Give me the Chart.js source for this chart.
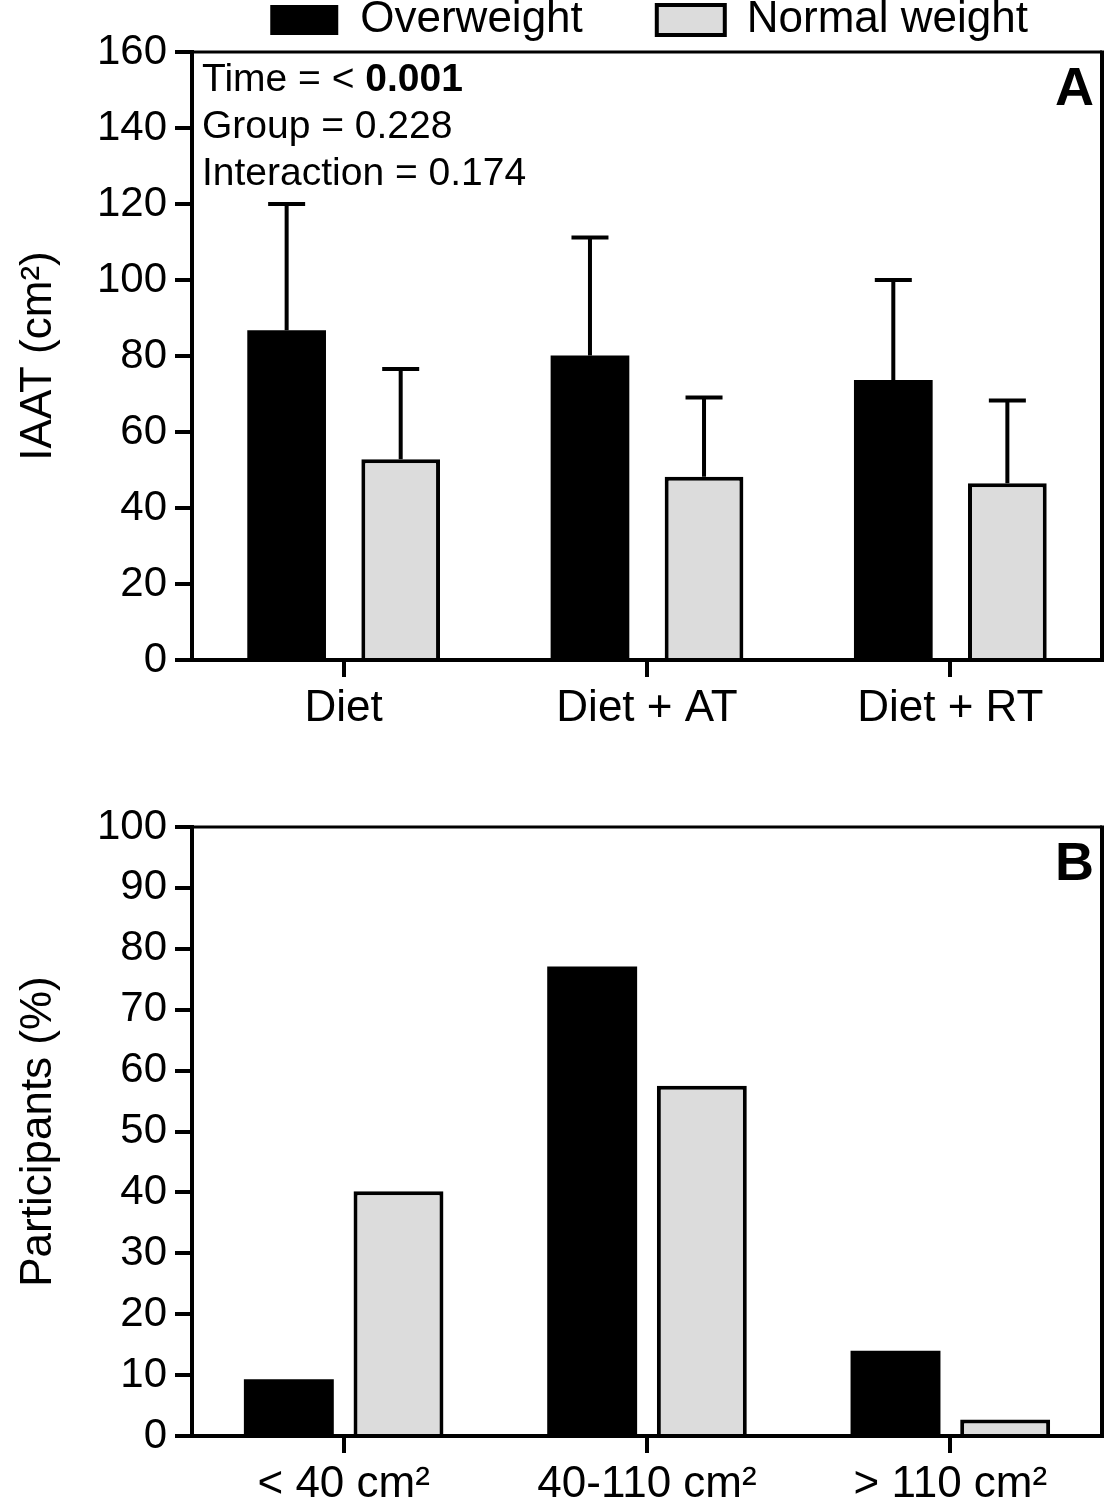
<!DOCTYPE html>
<html>
<head>
<meta charset="utf-8">
<script src="https://cdn.jsdelivr.net/npm/chart.js@4.4.0/dist/chart.umd.min.js"></script>
<style>
  body { margin: 0; background: #fff; }
  .box { position: relative; width: 1106px; }
</style>
</head>
<body>
<div class="box" style="height:760px"><canvas id="chartA"></canvas></div>
<div class="box" style="height:740px"><canvas id="chartB"></canvas></div>
<script>
// panel A: IAAT per intervention (mean + SD)
const treatments = ['Diet', 'Diet + AT', 'Diet + RT'];
const overweightIaat = [86.8, 80.1, 73.7];
const overweightSd = [33.2, 31.1, 26.3];
const normalIaat = [52.8, 48.2, 46.5];
const normalSd = [23.8, 20.9, 21.8];
const iaatTicks = [0, 20, 40, 60, 80, 100, 120, 140, 160];

// panel B: participants per IAAT class
const iaatClasses = ['< 40 cm²', '40-110 cm²', '> 110 cm²'];
const overweightPct = [9.3, 77.1, 14.0];
const normalPct = [40.2, 57.5, 2.7];
const pctTicks = [0, 10, 20, 30, 40, 50, 60, 70, 80, 90, 100];

const statsText = [
    ['Time = < ', '0.001'],
    ['Group = 0.228', ''],
    ['Interaction = 0.174', '']
];

Chart.defaults.font.family = 'Arial, "Liberation Sans", Helvetica, sans-serif';
Chart.defaults.color = '#000';
Chart.defaults.animation = false;

const OW_COLOR = '#000000';
const NW_COLOR = '#dcdcdc';

// top + right frame, panel letter and optional extra text
const framePlugin = {
    id: 'frame',
    afterDraw(chart, args, opts) {
        const ctx = chart.ctx;
        const a = chart.chartArea;
        ctx.save();
        ctx.strokeStyle = '#000';
        ctx.lineWidth = 3;
        ctx.beginPath();
        ctx.moveTo(a.left, a.top);
        ctx.lineTo(a.right, a.top);
        ctx.stroke();
        ctx.lineWidth = 4;
        ctx.beginPath();
        ctx.moveTo(a.right, a.top - 1.5);
        ctx.lineTo(a.right, a.bottom);
        ctx.stroke();

        ctx.fillStyle = '#000';
        ctx.font = 'bold 54px Arial, "Liberation Sans", sans-serif';
        ctx.textAlign = 'right';
        ctx.textBaseline = 'middle';
        ctx.fillText(opts.letter, a.right - 8, a.top + 38);

        if (opts.stats) {
            ctx.textAlign = 'left';
            opts.stats.forEach((line, i) => {
                const y = a.top + 28 + i * 47;
                ctx.font = '39px Arial, "Liberation Sans", sans-serif';
                ctx.fillText(line[0], a.left + 10, y);
                if (line[1]) {
                    const w = ctx.measureText(line[0]).width;
                    ctx.font = 'bold 39px Arial, "Liberation Sans", sans-serif';
                    ctx.fillText(line[1], a.left + 10 + w, y);
                }
            });
        }
        ctx.restore();
    }
};

// upward SD whiskers
const errorBarPlugin = {
    id: 'errorBars',
    beforeDatasetsDraw(chart) {
        const ctx = chart.ctx;
        const yScale = chart.scales.y;
        ctx.save();
        ctx.strokeStyle = '#000';
        ctx.lineWidth = 4;
        chart.data.datasets.forEach((ds, di) => {
            if (!ds.sd) return;
            const meta = chart.getDatasetMeta(di);
            meta.data.forEach((bar, i) => {
                const top = yScale.getPixelForValue(ds.data[i] + ds.sd[i]);
                const x = bar.x;
                ctx.beginPath();
                ctx.moveTo(x, bar.y);
                ctx.lineTo(x, top);
                ctx.moveTo(x - 18.5, top);
                ctx.lineTo(x + 18.5, top);
                ctx.stroke();
            });
        });
        ctx.restore();
    }
};

function axes(max, step, titleText) {
    return {
        x: {
            grid: { display: true, drawOnChartArea: false, offset: false, color: '#000', lineWidth: 4, tickWidth: 4, tickLength: 17 },
            border: { color: '#000', width: 4 },
            ticks: { font: { size: 44 }, padding: 5, color: '#000' }
        },
        y: {
            min: 0,
            max: max,
            grid: { display: true, drawOnChartArea: false, color: '#000', lineWidth: 4, tickWidth: 4, tickLength: 17 },
            border: { color: '#000', width: 4 },
            ticks: { stepSize: step, font: { size: 42 }, padding: 8, color: '#000' },
            title: { display: true, text: titleText, font: { size: 44 }, padding: { top: 12, bottom: 0 }, color: '#000' },
            afterFit(scale) { scale.width = 192; }
        }
    };
}

// Panel A
const scalesA = axes(iaatTicks[iaatTicks.length - 1], iaatTicks[1] - iaatTicks[0], 'IAAT (cm²)');
scalesA.x.afterFit = function (scale) { scale.height = 100; };
new Chart(document.getElementById('chartA'), {
    type: 'bar',
    data: {
        labels: treatments,
        datasets: [
            {
                label: 'Overweight',
                data: overweightIaat,
                sd: overweightSd,
                backgroundColor: OW_COLOR,
                borderColor: '#000',
                borderWidth: 0,
                categoryPercentage: 0.752,
                barPercentage: 0.69
            },
            {
                label: 'Normal weight',
                data: normalIaat,
                sd: normalSd,
                backgroundColor: NW_COLOR,
                borderColor: '#000',
                borderWidth: 4,
                categoryPercentage: 0.752,
                barPercentage: 0.69
            }
        ]
    },
    options: {
        responsive: true,
        maintainAspectRatio: false,
        layout: { padding: { top: -76, right: 4, left: 0, bottom: 0 } },
        plugins: {
            legend: {
                display: true,
                position: 'top',
                align: 'end',
                fullSize: false,
                labels: {
                    font: { size: 44 },
                    boxWidth: 68,
                    boxHeight: 30,
                    padding: 74,
                    color: '#000'
                }
            },
            tooltip: { enabled: false },
            frame: { letter: 'A', stats: statsText }
        },
        scales: scalesA
    },
    plugins: [framePlugin, errorBarPlugin]
});

// Panel B
const scalesB = axes(pctTicks[pctTicks.length - 1], pctTicks[1] - pctTicks[0], 'Participants (%)');
scalesB.x.afterFit = function (scale) { scale.height = 64; };
new Chart(document.getElementById('chartB'), {
    type: 'bar',
    data: {
        labels: iaatClasses,
        datasets: [
            {
                label: 'Overweight',
                data: overweightPct,
                backgroundColor: OW_COLOR,
                borderWidth: 0,
                categoryPercentage: 0.723,
                barPercentage: 0.82
            },
            {
                label: 'Normal weight',
                data: normalPct,
                backgroundColor: NW_COLOR,
                borderColor: '#000',
                borderWidth: 4,
                categoryPercentage: 0.723,
                barPercentage: 0.82
            }
        ]
    },
    options: {
        responsive: true,
        maintainAspectRatio: false,
        layout: { padding: { top: 67, right: 4, left: 0, bottom: 0 } },
        plugins: {
            legend: { display: false },
            tooltip: { enabled: false },
            frame: { letter: 'B' }
        },
        scales: scalesB
    },
    plugins: [framePlugin]
});
</script>
</body>
</html>
